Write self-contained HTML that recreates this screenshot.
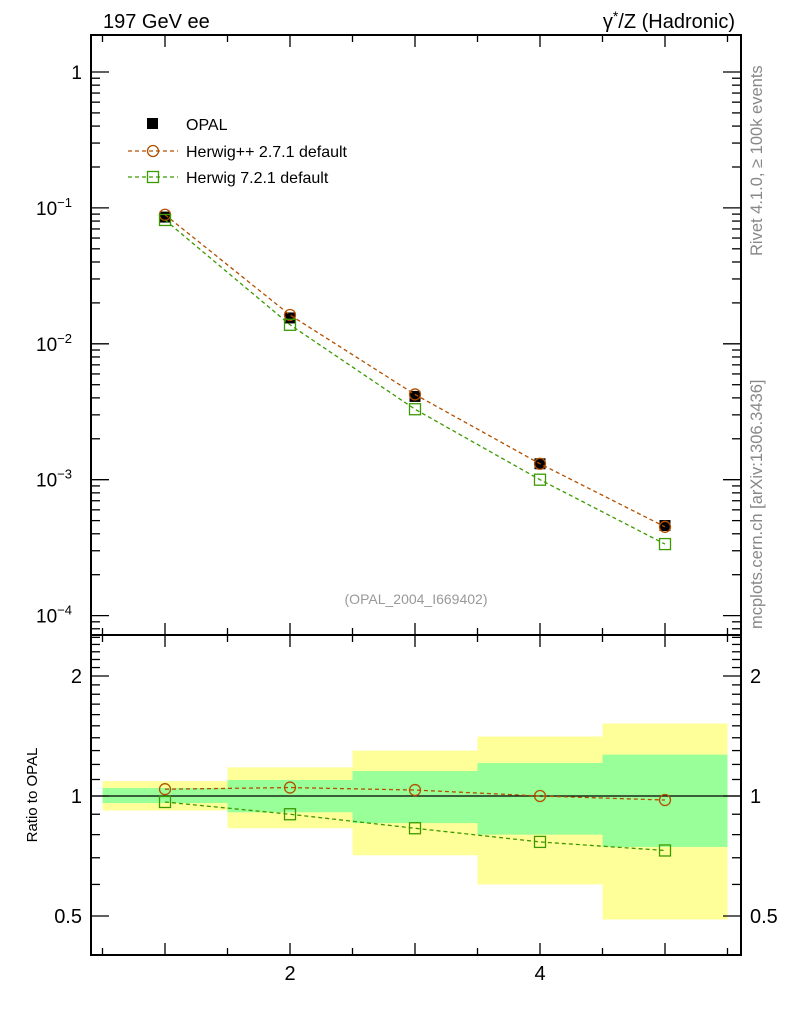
<!DOCTYPE html>
<html><head><meta charset="utf-8"><style>
body{margin:0;background:#fff;}
svg text{font-family:"Liberation Sans",sans-serif;}
</style></head><body>
<svg id="c" width="786" height="1024" xmlns="http://www.w3.org/2000/svg">
<text x="103" y="28" font-size="20">197 GeV ee</text>
<text x="735" y="28" font-size="20" text-anchor="end">γ<tspan dy="-7" font-size="14">*</tspan><tspan dy="7">/Z (Hadronic)</tspan></text>
<text transform="translate(762,256) rotate(-90)" font-size="16.5" fill="#888">Rivet 4.1.0, ≥ 100k events</text>
<text transform="translate(762,629) rotate(-90)" font-size="16.5" fill="#888">mcplots.cern.ch [arXiv:1306.3436]</text>
<text x="416" y="604" font-size="14" fill="#999" text-anchor="middle">(OPAL_2004_I669402)</text>
<text transform="translate(37,795) rotate(-90)" font-size="15" text-anchor="middle">Ratio to OPAL</text>
<g id="bands"></g>
<g id="main"></g>
<g id="ratio"></g>
<g id="axes"></g>
<g>
<rect x="147" y="118" width="11" height="11" fill="#000"/>
<text x="186" y="130" font-size="16">OPAL</text>
<line x1="128" y1="151" x2="178" y2="151" stroke="#b35000" stroke-width="1.3" stroke-dasharray="4,3"/>
<circle cx="153" cy="151" r="5.5" fill="none" stroke="#b35000" stroke-width="1.3"/>
<text x="186" y="157" font-size="16">Herwig++ 2.7.1 default</text>
<line x1="128" y1="177" x2="178" y2="177" stroke="#3a9a00" stroke-width="1.3" stroke-dasharray="4,3"/>
<rect x="147.5" y="171.5" width="11" height="11" fill="none" stroke="#3a9a00" stroke-width="1.3"/>
<text x="186" y="183" font-size="16">Herwig 7.2.1 default</text>
</g>
</svg>
<script>
const xs=[1,2,3,4,5];
const opal=[0.0856,0.0155,0.0041,0.00131,0.00046];
const herwigpp=[0.089,0.0163,0.00424,0.00131,0.00045];
const herwig7=[0.0815,0.0138,0.0033,0.00100,0.000336];
const ratioHpp=[1.04,1.05,1.035,1.0,0.977];
const ratioH7=[0.966,0.90,0.83,0.767,0.73];
const yelLo=[0.92,0.83,0.71,0.60,0.49];
const yelHi=[1.09,1.18,1.30,1.41,1.52];
const grnLo=[0.96,0.91,0.855,0.80,0.745];
const grnHi=[1.047,1.097,1.155,1.21,1.27];
const NS="http://www.w3.org/2000/svg";
const X=v=>165+(v-1)*125;
const Y=v=>72-Math.log10(v)*135.9;
const R=v=>796-Math.log2(v)*120;
function mk(p,t,a){const e=document.createElementNS(NS,t);for(const k in a)e.setAttribute(k,a[k]);document.getElementById(p).appendChild(e);return e;}
xs.forEach((x,i)=>{
 let e=mk('bands','rect',{x:X(x-0.5),y:R(yelHi[i]),width:125,height:R(yelLo[i])-R(yelHi[i]),fill:'#ffff99'});
 
 e=mk('bands','rect',{x:X(x-0.5),y:R(grnHi[i]),width:125,height:R(grnLo[i])-R(grnHi[i]),fill:'#99ff99'});
 
});
let l=mk('bands','line',{x1:91,x2:741,y1:R(1),y2:R(1),stroke:'#000','stroke-width':1.2});

function series(g,vals,f,col,shape,name){
 const pl=mk(g,'polyline',{points:xs.map((x,i)=>X(x)+','+f(vals[i])).join(' '),fill:'none',stroke:col,'stroke-width':1.3,'stroke-dasharray':'4,3'});
 
 xs.forEach((x,i)=>{let e;
  if(shape=='c')e=mk(g,'circle',{cx:X(x),cy:f(vals[i]),r:5.5,fill:'none',stroke:col,'stroke-width':1.3});
  else e=mk(g,'rect',{x:X(x)-5.5,y:f(vals[i])-5.5,width:11,height:11,fill:'none',stroke:col,'stroke-width':1.3});
  });
}
xs.forEach((x,i)=>{const e=mk('main','rect',{x:X(x)-5.5,y:Y(opal[i])-5.5,width:11,height:11,fill:'#000'});
 });
series('main',herwigpp,Y,'#b35000','c','herwigpp');
series('main',herwig7,Y,'#3a9a00','s','herwig7');
series('ratio',ratioHpp,R,'#b35000','c','herwigpp-ratio');
series('ratio',ratioH7,R,'#3a9a00','s','herwig7-ratio');
let f=mk('axes','rect',{x:91,y:35,width:650,height:600,fill:'none',stroke:'#000','stroke-width':2});

f=mk('axes','rect',{x:91,y:635,width:650,height:320,fill:'none',stroke:'#000','stroke-width':2});

function tk(x1,y1,x2,y2){mk('axes','line',{x1,y1,x2,y2,stroke:'#000','stroke-width':1.3});}
for(let v=0.5;v<=5.5;v+=0.5){const px=X(v),L=(v%1==0)?12:7;
 [[35,1],[635,1],[635,-1],[955,-1]].forEach(([y,s])=>tk(px,y,px,y+s*L));}
[2,4].forEach(v=>{const t=mk('axes','text',{x:X(v),y:980,'font-size':20,'text-anchor':'middle'});t.textContent=v;
 });
for(let d=-5;d<=0;d++)for(let m=1;m<10;m++){const v=m*Math.pow(10,d),py=Y(v);if(py<36||py>634)continue;
 const L=m==1?18:9;tk(91,py,91+L,py);tk(741,py,741-L,py);}
const dl=[[1,'1',''],[0.1,'10','−1'],[0.01,'10','−2'],[0.001,'10','−3'],[0.0001,'10','−4']];
dl.forEach(([v,b,e])=>{const t=mk('axes','text',{x:82,y:Y(v)+7,'font-size':19,'text-anchor':'end'});
 t.textContent=b;if(e){const s=document.createElementNS(NS,'tspan');s.setAttribute('dy','-8');s.setAttribute('font-size','13');s.textContent=e;t.appendChild(s);t.setAttribute('x',72);}
 });
[0.4,0.5,0.6,0.7,0.8,0.9,1,1.1,1.2,1.3,1.4,1.5,1.6,1.7,1.8,1.9,2,2.1,2.2,2.3,2.4,2.5].forEach(v=>{const py=R(v);if(py<636||py>954)return;
 const L=(v==0.5||v==1||v==2)?18:9;tk(91,py,91+L,py);tk(741,py,741-L,py);});
[[2,'2'],[1,'1'],[0.5,'0.5']].forEach(([v,s])=>{[[82,'end'],[750,'start']].forEach(([x,a])=>{
 const t=mk('axes','text',{x,y:R(v)+7,'font-size':20,'text-anchor':a});t.textContent=s;
 });});
</script>
</body></html>
